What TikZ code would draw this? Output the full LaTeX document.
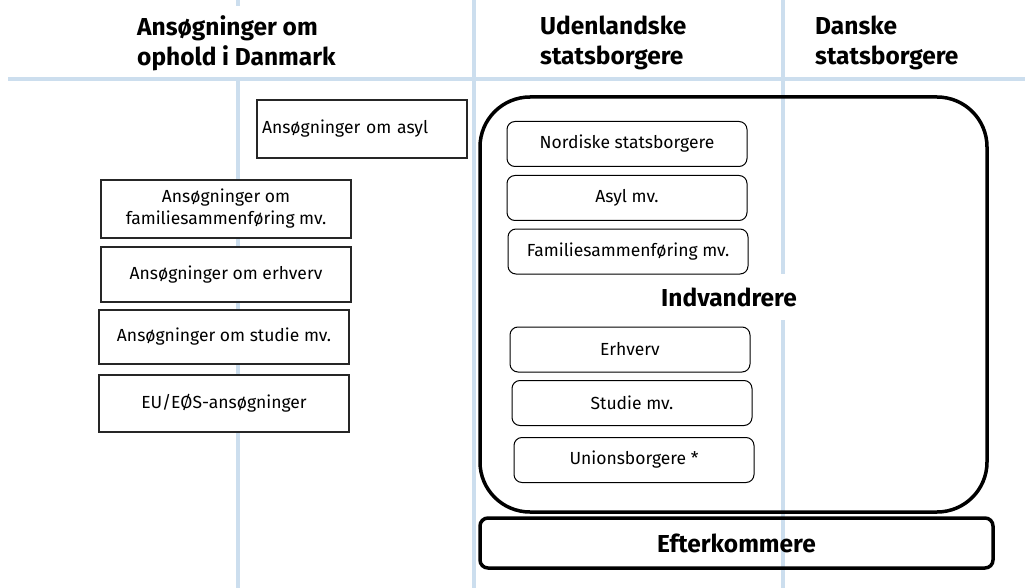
\documentclass[tikz,border=0pt]{standalone}
\usepackage{fontspec}
\setmainfont{Fira Sans}
\definecolor{gridblue}{RGB}{204,222,238}
\tikzset{
  gridline/.style={draw=gridblue, line width=4pt},
  hdr/.style={font=\fontsize{24.5}{30}\selectfont\bfseries, align=left, anchor=north west, inner sep=0pt},
  appbox/.style={draw=black!85, line width=1.3pt, fill=white, font=\fontsize{17.5}{22}\selectfont, align=center, inner sep=2pt},
  catbox/.style={draw=black, line width=1pt, rounded corners=8pt, fill=white, font=\fontsize{17.5}{22}\selectfont, minimum width=240pt, minimum height=45pt, inner sep=2pt},
  bigbox/.style={draw=black, line width=3.5pt, rounded corners=50pt, inner sep=0pt},
  boldlabel/.style={font=\fontsize{24.5}{28}\selectfont\bfseries, inner sep=2pt}
}
\begin{document}
\begin{tikzpicture}[x=1pt,y=-1pt]
\useasboundingbox (0,0) rectangle (1025,588);
% grid
\draw[gridline] (8,79) -- (1025,79);
\draw[gridline] (238,0) -- (238,6);
\draw[gridline] (238,79) -- (238,588);
\draw[gridline] (474,0) -- (474,588);
\draw[gridline] (783,0) -- (783,588);
% headers
\node[hdr] (h1) at (137,15.5) {Ansøgninger om\\ophold i Danmark};
\node[hdr] (h2) at (540,15.5) {Udenlandske\\statsborgere};
\node[hdr] (h3) at (815,15.5) {Danske\\statsborgere};
% application boxes
\node[appbox, minimum width=210pt, minimum height=58pt, text width=200pt, align=left] (a1) at (362,129) {Ansøgninger om asyl};
\node[appbox, minimum width=250pt, minimum height=58pt] (a2) at (226,209) {Ansøgninger om\\familiesammenføring mv.};
\node[appbox, minimum width=250pt, minimum height=55pt] (a3) at (226,274.5) {Ansøgninger om erhverv};
\node[appbox, minimum width=250pt, minimum height=54pt] (a4) at (224,337) {Ansøgninger om studie mv.};
\node[appbox, minimum width=250pt, minimum height=57pt] (a5) at (224,403.5) {EU/EØS-ansøgninger};
% big box
\node[bigbox, minimum width=507pt, minimum height=415pt] (indv) at (733.5,304.5) {};
\node[boldlabel, fill=white, minimum height=46pt] (indvlbl) at (729,297) {Indvandrere};
% category boxes
\node[catbox] (c1) at (627,144) {Nordiske statsborgere};
\node[catbox] (c2) at (627,198) {Asyl mv.};
\node[catbox] (c3) at (628,251.5) {Familiesammenføring mv.};
\node[catbox] (c4) at (630,349.5) {Erhverv};
\node[catbox] (c5) at (632,403) {Studie mv.};
\node[catbox] (c6) at (634,460) {Unionsborgere *};
% efterkommere
\node[draw=black, line width=3.5pt, rounded corners=8pt, minimum width=513pt, minimum height=50pt, boldlabel] (efter) at (736.5,543) {Efterkommere};
\end{tikzpicture}
\end{document}
